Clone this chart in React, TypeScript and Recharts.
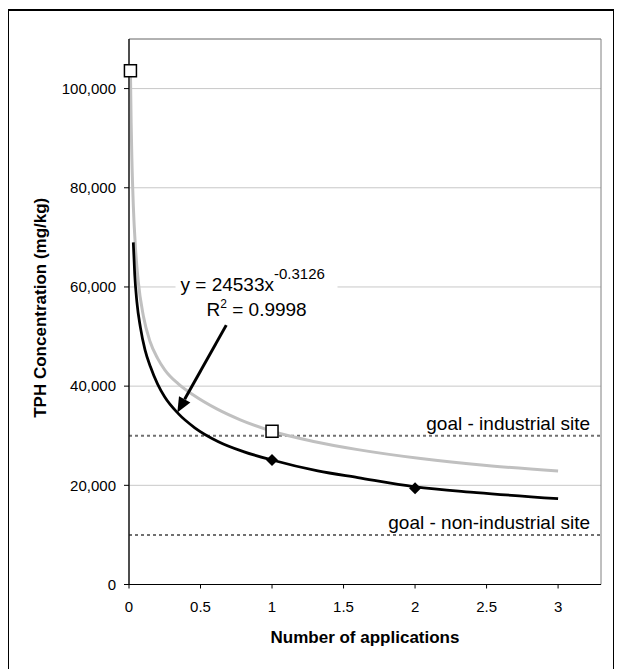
import {
  ComposedChart,
  Line,
  Scatter,
  XAxis,
  YAxis,
  CartesianGrid,
  ReferenceLine,
  ReferenceArea,
  ReferenceDot,
} from 'recharts';

// axis ticks
const xTicks = [0, 0.5, 1, 1.5, 2, 2.5, 3];
const yTicks = [0, 20000, 40000, 60000, 80000, 100000];

// open squares (grey series) and their fitted curve
const squareX = [0.01, 1];
const squareY = [103600, 30900];
const greyFitX = [0.01, 0.015, 0.02, 0.03, 0.045, 0.065, 0.1, 0.147, 0.2, 0.25, 0.343, 0.45, 0.614, 0.778, 1, 1.3, 1.6, 2.04, 2.5, 3];
const greyFitY = [103600, 93000, 86000, 76500, 68000, 61000, 54200, 49000, 45600, 43300, 40500, 38200, 35400, 33200, 30900, 28800, 27200, 25400, 24000, 22900];

// filled diamonds (black series) and their fitted curve
const diamondX = [1, 2];
const diamondY = [25100, 19400];
const blackFitX = [0.03, 0.04, 0.055, 0.08, 0.112, 0.15, 0.2, 0.25, 0.343, 0.46, 0.625, 0.8, 1, 1.32, 1.6, 2, 2.43, 3];
const blackFitY = [69000, 62500, 57000, 51800, 47300, 43900, 40400, 37800, 34500, 31600, 28800, 26800, 25100, 22900, 21550, 19700, 18550, 17300];

// clean-up goals
const goalIndustrial = 30000;
const goalNonIndustrial = 10000;

const fitEquation = 'y = 24533x';
const fitExponent = '-0.3126';
const fitR2 = '0.9998';

const zip = (xs: number[], ys: number[]) => xs.map((x, i) => ({ x, y: ys[i] }));

const FONT = '"Liberation Sans", Arial, sans-serif';

const Square = (p: any) => (
  <rect x={p.cx - 6} y={p.cy - 6} width={12} height={12} fill="#fff" stroke="#000" strokeWidth={1.5} />
);

const Diamond = (p: any) => (
  <polygon
    points={`${p.cx},${p.cy - 6} ${p.cx + 6},${p.cy} ${p.cx},${p.cy + 6} ${p.cx - 6},${p.cy}`}
    fill="#000"
  />
);

const Arrow = (p: any) => {
  const { x1, y1, x2, y2 } = p;
  const dx = x2 - x1;
  const dy = y2 - y1;
  const len = Math.hypot(dx, dy) || 1;
  const ux = dx / len;
  const uy = dy / len;
  const bx = x2 - ux * 15;
  const by = y2 - uy * 15;
  const px = -uy;
  const py = ux;
  return (
    <g>
      <line x1={x1} y1={y1} x2={bx} y2={by} stroke="#000" strokeWidth={3} />
      <polygon
        points={`${x2},${y2} ${bx + px * 6.5},${by + py * 6.5} ${bx - px * 6.5},${by - py * 6.5}`}
        fill="#000"
      />
    </g>
  );
};

const Equation = (p: any) => {
  const { cx, cy } = p;
  return (
    <g fontFamily={FONT} fill="#000">
      <rect x={cx - 25} y={cy - 22} width={162} height={30} fill="#fff" />
      <text x={cx - 20} y={cy + 4} fontSize={19}>
        {fitEquation}
        <tspan dy={-11.5} fontSize={15}>
          {fitExponent}
        </tspan>
      </text>
      <text x={cx + 6} y={cy + 29.5} fontSize={19}>
        R
        <tspan dy={-8} fontSize={12}>
          2
        </tspan>
        <tspan dy={8}>{` = ${fitR2}`}</tspan>
      </text>
    </g>
  );
};

const goalLabel = (text: string) => (p: any) => {
  const vb = p.viewBox;
  return (
    <text
      x={vb.x + vb.width - 11}
      y={vb.y - 5.5}
      textAnchor="end"
      fontSize={19}
      fontFamily={FONT}
      fill="#000"
    >
      {text}
    </text>
  );
};

export default function App() {
  const tickStyle = { fontSize: 15, fontFamily: FONT, fill: '#000' };

  return (
    <div
      style={{
        position: 'relative',
        left: -1,
        top: 1,
        width: 604,
        height: 680,
        border: '2px solid #000',
        background: '#fff',
      }}
    >
      <ComposedChart width={604} height={658} margin={{ top: 28, right: 12, left: 0, bottom: 24.5 }}>
        <CartesianGrid horizontal={true} vertical={false} stroke="#c8c8c8" strokeWidth={1} />
        <ReferenceArea x1={0} x2={3.3} y1={0} y2={110000} fill="none" stroke="#808080" strokeWidth={1} />
        <XAxis
          type="number"
          dataKey="x"
          domain={[0, 3.3]}
          ticks={xTicks}
          height={60}
          tickSize={4}
          tickMargin={13}
          tick={tickStyle}
          axisLine={{ stroke: '#000', strokeWidth: 1.2 }}
          tickLine={{ stroke: '#000' }}
          label={(p: any) => (
            <text
              x={p.viewBox.x + p.viewBox.width / 2}
              y={p.viewBox.y + 58.5}
              textAnchor="middle"
              fontSize={17}
              fontWeight="bold"
              fontFamily={FONT}
              fill="#000"
            >
              Number of applications
            </text>
          )}
        />
        <YAxis
          type="number"
          dataKey="y"
          domain={[0, 110000]}
          ticks={yTicks}
          width={120}
          tickSize={5}
          tickMargin={8}
          tick={tickStyle}
          tickFormatter={(v: number) => v.toLocaleString('en-US')}
          axisLine={{ stroke: '#000', strokeWidth: 1.2 }}
          tickLine={{ stroke: '#000' }}
          label={(p: any) => {
            const x = p.viewBox.x + 37;
            const y = p.viewBox.y + p.viewBox.height / 2 - 4;
            return (
              <text
                x={x}
                y={y}
                transform={`rotate(-90 ${x} ${y})`}
                textAnchor="middle"
                fontSize={17}
                fontWeight="bold"
                fontFamily={FONT}
                fill="#000"
              >
                TPH Concentration (mg/kg)
              </text>
            );
          }}
        />
        <ReferenceLine
          y={goalIndustrial}
          stroke="#707070"
          strokeWidth={2}
          strokeDasharray="3 3"
          label={goalLabel('goal - industrial site')}
        />
        <ReferenceLine
          y={goalNonIndustrial}
          stroke="#707070"
          strokeWidth={2}
          strokeDasharray="3 3"
          label={goalLabel('goal - non-industrial site')}
        />
        <Line
          data={zip(greyFitX, greyFitY)}
          dataKey="y"
          type="monotone"
          stroke="#c0c0c0"
          strokeWidth={3}
          dot={false}
          activeDot={false}
          isAnimationActive={false}
        />
        <Line
          data={zip(blackFitX, blackFitY)}
          dataKey="y"
          type="monotone"
          stroke="#000"
          strokeWidth={2.75}
          dot={false}
          activeDot={false}
          isAnimationActive={false}
        />
        <Scatter data={zip(squareX, squareY)} shape={Square} isAnimationActive={false} />
        <Scatter data={zip(diamondX, diamondY)} shape={Diamond} isAnimationActive={false} />
        <ReferenceLine
          segment={[
            { x: 0.68, y: 52300 },
            { x: 0.338, y: 34700 },
          ]}
          shape={Arrow}
        />
        <ReferenceDot x={0.5} y={60000} r={0} shape={Equation} />
      </ComposedChart>
    </div>
  );
}
